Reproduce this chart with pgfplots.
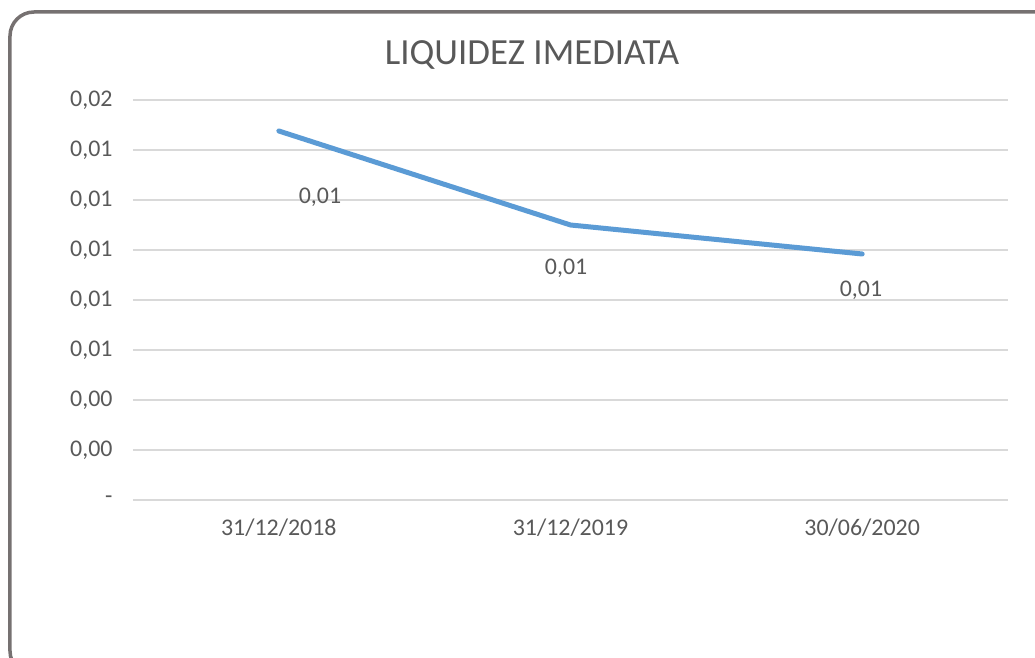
\documentclass[border=0pt]{standalone}
\usepackage{fontspec}
\setmainfont{Carlito}
\usepackage{pgfplots}
\pgfplotsset{compat=1.18}
\definecolor{txt}{HTML}{595959}
\definecolor{gridc}{HTML}{D9D9D9}
\definecolor{linec}{HTML}{5B9BD5}
\definecolor{framec}{HTML}{767171}
\begin{document}
\begin{tikzpicture}[x=1bp,y=1bp]
\useasboundingbox (-133,-158) rectangle (902,500);
\begin{scope}
\clip (-133,-158) rectangle (902,500);
\draw[framec, line width=3.5bp, rounded corners=24bp] (-123,488) rectangle (940,-175);
\end{scope}
\node[txt, font=\fontsize{37}{42}\selectfont] at (399,445) {LIQUIDEZ IMEDIATA};
\begin{axis}[
  at={(0,0)}, anchor=south west,
  scale only axis, width=875bp, height=400bp,
  xmin=-0.5, xmax=2.5, ymin=0, ymax=0.016,
  scaled y ticks=false,
  xtick={0,1,2}, xticklabels={31/12/2018,31/12/2019,30/06/2020},
  ytick={0,0.002,0.004,0.006,0.008,0.010,0.012,0.014,0.016},
  yticklabels={{-},{0,00},{0,00},{0,01},{0,01},{0,01},{0,01},{0,01},{0,02}},
  ymajorgrids, xmajorgrids=false, major grid style={draw=gridc, line width=1.5bp},
  axis line style={draw=none}, major tick length=0pt,
  ticklabel style={txt, font=\fontsize{24}{28}\selectfont},
  yticklabel style={xshift=-17bp},
  xticklabel style={yshift=-15bp},
  clip=false,
]
\addplot[linec, line width=5bp, line cap=round, line join=round] coordinates
  {(0,0.01476) (1,0.0110) (2,0.00984)};
\node[txt, font=\fontsize{24}{28}\selectfont] at (axis cs:0.141,0.01212) {0,01};
\node[txt, font=\fontsize{24}{28}\selectfont] at (axis cs:0.985,0.00928) {0,01};
\node[txt, font=\fontsize{24}{28}\selectfont] at (axis cs:1.996,0.0084) {0,01};
\end{axis}
\end{tikzpicture}
\end{document}
